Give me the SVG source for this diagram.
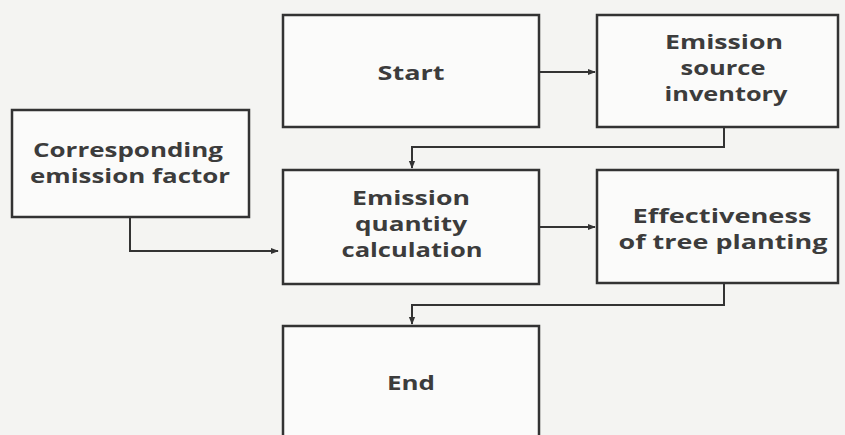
<svg xmlns="http://www.w3.org/2000/svg" width="845" height="435" viewBox="0 0 845 435">
<defs>
<marker id="ah" viewBox="0 0 10 10" refX="9" refY="5" markerWidth="4" markerHeight="4" orient="auto" markerUnits="strokeWidth">
<path d="M0,1 L10,5 L0,9 z" fill="#333"/>
</marker>
<style>
.box{fill:#fbfbfa;stroke:#333;stroke-width:2.5}
.t{font-family:"Open Sans","Liberation Sans",sans-serif;font-weight:bold;font-size:19px;fill:#3c3c3c;text-anchor:middle}
.c{fill:none;stroke:#333;stroke-width:2}
</style>
</defs>
<rect width="845" height="435" fill="#f4f4f2"/>
<g id="start">
<rect class="box" x="283" y="15" width="256" height="112"/>
<text class="t" x="411" y="80" textLength="67" lengthAdjust="spacingAndGlyphs">Start</text>
</g>
<g id="inventory">
<rect class="box" x="597" y="15" width="241" height="112"/>
<text class="t" x="724" y="49" textLength="118" lengthAdjust="spacingAndGlyphs">Emission</text>
<text class="t" x="723" y="75" textLength="85" lengthAdjust="spacingAndGlyphs">source</text>
<text class="t" x="726" y="101" textLength="123" lengthAdjust="spacingAndGlyphs">inventory</text>
</g>
<g id="factor">
<rect class="box" x="12" y="110" width="237" height="107"/>
<text class="t" x="128" y="157" textLength="190" lengthAdjust="spacingAndGlyphs">Corresponding</text>
<text class="t" x="130" y="183" textLength="200" lengthAdjust="spacingAndGlyphs">emission factor</text>
</g>
<g id="calculation">
<rect class="box" x="283" y="170" width="256" height="114"/>
<text class="t" x="411" y="205" textLength="118" lengthAdjust="spacingAndGlyphs">Emission</text>
<text class="t" x="411" y="231" textLength="112" lengthAdjust="spacingAndGlyphs">quantity</text>
<text class="t" x="412" y="257" textLength="141" lengthAdjust="spacingAndGlyphs">calculation</text>
</g>
<g id="effectiveness">
<rect class="box" x="597" y="170" width="241" height="113"/>
<text class="t" x="722" y="223" textLength="179" lengthAdjust="spacingAndGlyphs">Effectiveness</text>
<text class="t" x="723" y="249" textLength="209" lengthAdjust="spacingAndGlyphs">of tree planting</text>
</g>
<g id="end">
<rect class="box" x="283" y="326" width="256" height="120"/>
<text class="t" x="411" y="390" textLength="48" lengthAdjust="spacingAndGlyphs">End</text>
</g>
<g id="connectors">
<path class="c" d="M539,72 H595" marker-end="url(#ah)"/>
<path class="c" d="M724,127 V147 H412 V168" marker-end="url(#ah)"/>
<path class="c" d="M130,217 V251 H278" marker-end="url(#ah)"/>
<path class="c" d="M539,227 H595" marker-end="url(#ah)"/>
<path class="c" d="M724,283 V305 H412 V324" marker-end="url(#ah)"/>
</g>
</svg>
